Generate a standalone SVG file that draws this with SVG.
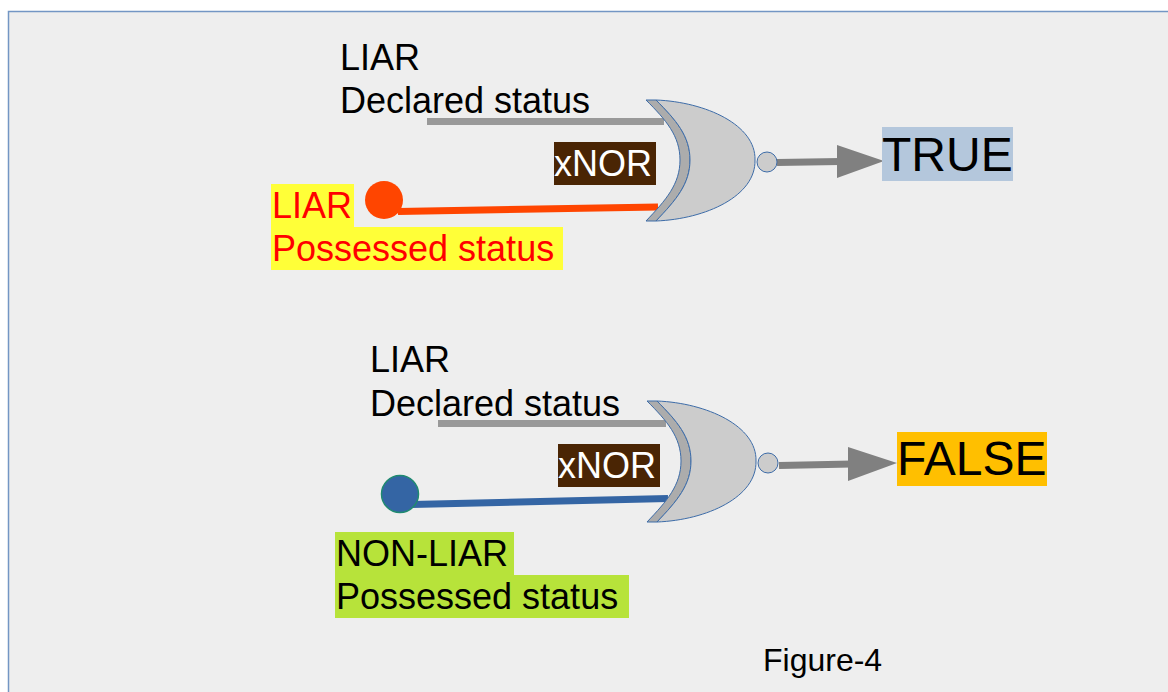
<svg xmlns="http://www.w3.org/2000/svg" width="1168" height="692" viewBox="0 0 1168 692">
<style>
text{font-family:"Liberation Sans",Arial,sans-serif;font-size:36px}
.big{font-size:48px}
.g1{fill:#acacac;stroke:#3d6ca8;stroke-width:1}
.g2{fill:#cccccc;stroke:#3d6ca8;stroke-width:1}
</style>
<defs>
<g id="xnor">
<path class="g1" d="M0 0H10C30 20 44 36 44 60C44 84 30 100 10 121H0C20 100 34 84 34 60C34 36 20 20 0 0Z"/>
<path class="g2" d="M10 0C60 2 110 25 109 60C110 96 60 119 10 121C30 100 44 84 44 60C44 36 30 20 10 0Z"/>
<circle class="g2" cx="121" cy="62" r="10"/>
</g>
</defs>
<rect x="8.500" y="11.500" width="1170" height="690" fill="#eeeeee" stroke="#7396c4" stroke-width="1.500"/>
<g id="connectors" fill="none">
<path d="M427 121.500H664" stroke="#999999" stroke-width="7"/>
<path d="M398 211.500L658 207" stroke="#ff4500" stroke-width="7"/>
<path d="M777 162.500L840 161.500" stroke="#808080" stroke-width="7"/>
<polygon points="837,145 884,161 837,178" fill="#808080"/>
<path d="M438 423.500H666" stroke="#999999" stroke-width="7"/>
<path d="M412 504.500L668 498.500" stroke="#3465a4" stroke-width="7"/>
<path d="M779 465.500L852 464" stroke="#808080" stroke-width="7"/>
<polygon points="848,447 897,463 848,481" fill="#808080"/>
</g>
<g id="gate-1"><use href="#xnor" x="646" y="100"/></g>
<g id="gate-2"><use href="#xnor" x="647" y="401"/></g>
<g id="dot-1"><circle cx="384" cy="200" r="19" fill="#ff4500"/></g>
<g id="dot-2"><circle cx="400" cy="494" r="18.500" fill="#3465a4" stroke="#1f8a70" stroke-width="1.500"/></g>
<g id="label-declared-1"><text x="340" y="70">LIAR</text><text x="340" y="113">Declared status</text></g>
<g id="label-xnor-1"><rect x="554" y="142" width="102" height="43" fill="#4a2504"/><text x="554" y="176" fill="#ffffff">xNOR</text></g>
<g id="label-possessed-1">
<rect x="271" y="184" width="83" height="43" fill="#ffff38"/><rect x="271" y="227" width="292" height="43" fill="#ffff38"/>
<text x="272" y="218" fill="#ff0000">LIAR</text><text x="272" y="261" fill="#ff0000">Possessed status</text></g>
<g id="label-true"><rect x="882" y="127" width="131" height="54" fill="#b4c7dc"/><text class="big" x="882" y="171">TRUE</text></g>
<g id="label-declared-2"><text x="370" y="372">LIAR</text><text x="370" y="416">Declared status</text></g>
<g id="label-xnor-2"><rect x="558" y="444" width="102" height="43" fill="#4a2504"/><text x="558" y="478" fill="#ffffff">xNOR</text></g>
<g id="label-possessed-2">
<rect x="335" y="532" width="179" height="43" fill="#b7e33a"/><rect x="335" y="575" width="294" height="43" fill="#b7e33a"/>
<text x="336" y="566">NON-LIAR</text><text x="336" y="609">Possessed status</text></g>
<g id="label-false"><rect x="897" y="432" width="150" height="54" fill="#ffbf00"/><text class="big" x="897" y="475">FALSE</text></g>
<g id="caption"><text x="763" y="671" style="font-size:32px">Figure-4</text></g>
</svg>
